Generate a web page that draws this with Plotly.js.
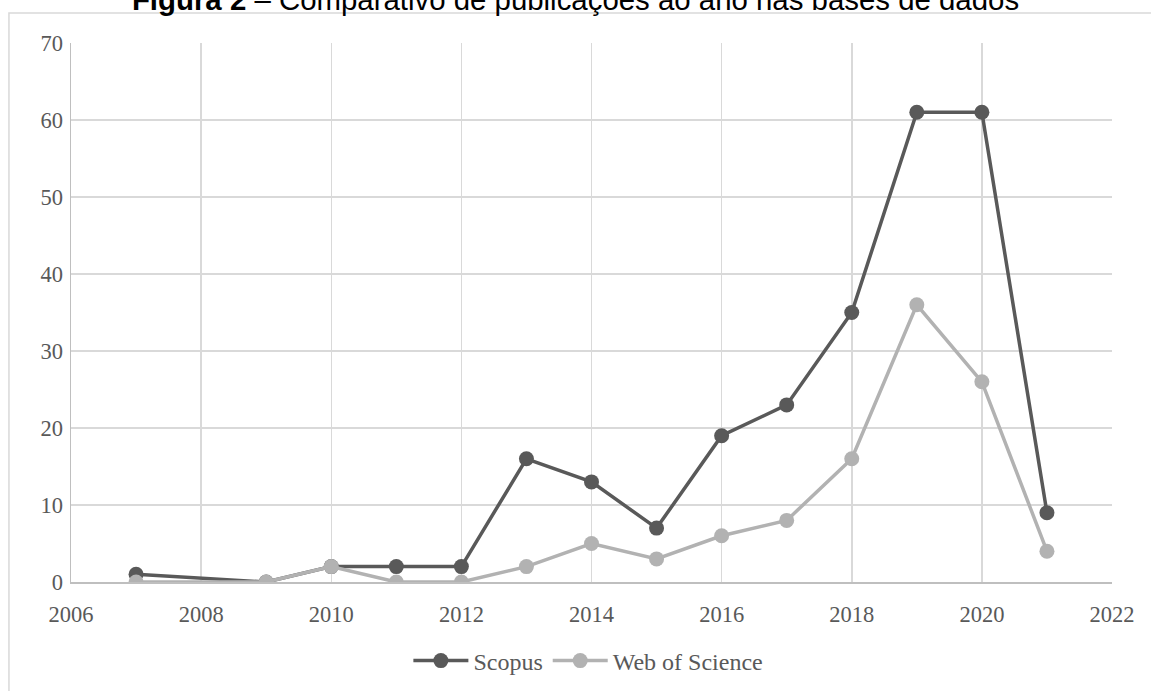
<!DOCTYPE html>
<html>
<head>
<meta charset="utf-8">
<script src="https://cdn.plot.ly/plotly-3.0.1.min.js"></script>
<style>
html, body { margin: 0; padding: 0; background: #ffffff; }
#chart { width: 1151px; height: 691px; }
</style>
</head>
<body>
<div id="chart"></div>
<script>
var years = [2007, 2009, 2010, 2011, 2012, 2013, 2014, 2015, 2016, 2017, 2018, 2019, 2020, 2021];
var scopus = [1, 0, 2, 2, 2, 16, 13, 7, 19, 23, 35, 61, 61, 9];
var webOfScience = [0, 0, 2, 0, 0, 2, 5, 3, 6, 8, 16, 36, 26, 4];
var seriesNames = ["Scopus", "Web of Science"];
var titleText = "<b>Figura 2</b> – Comparativo de publicações ao ano nas bases de dados";

var tickFont = { family: "Liberation Serif, Times New Roman, serif", size: 22.5, color: "#595959" };
var legendFont = { family: "Liberation Serif, Times New Roman, serif", size: 24, color: "#595959" };

var traces = [
  {
    x: years, y: scopus, name: seriesNames[0], type: "scatter", mode: "lines+markers",
    line: { color: "#595959", width: 3.5 },
    marker: { color: "#595959", size: 15 }
  },
  {
    x: years, y: webOfScience, name: seriesNames[1], type: "scatter", mode: "lines+markers",
    line: { color: "#b2b2b2", width: 3.5 },
    marker: { color: "#b2b2b2", size: 15 }
  }
];

var layout = {
  width: 1151, height: 691,
  margin: { l: 71, r: 39, t: 43, b: 109 },
  paper_bgcolor: "#ffffff", plot_bgcolor: "#ffffff",
  title: {
    text: titleText,
    font: { family: "Liberation Sans, Arial, sans-serif", size: 29.4, color: "#000000" },
    x: 0.5, xanchor: "center", xref: "container",
    y: 1.0, yanchor: "middle", yref: "container"
  },
  xaxis: {
    range: [2006, 2022], dtick: 2, tick0: 2006,
    showgrid: true, gridcolor: "#d9d9d9", gridwidth: 1.5,
    showline: true, linecolor: "#bfbfbf", linewidth: 1.5,
    zeroline: false, ticks: "", tickfont: tickFont,
    ticklabelstandoff: 11
  },
  yaxis: {
    range: [0, 70], dtick: 10,
    showgrid: true, gridcolor: "#d9d9d9", gridwidth: 1.5,
    showline: true, linecolor: "#bfbfbf", linewidth: 1.5,
    zeroline: false, ticks: "", tickfont: tickFont,
    ticklabelstandoff: 2
  },
  showlegend: true,
  legend: {
    orientation: "h", x: 0.497, xanchor: "center", xref: "paper",
    y: 0.0434, yanchor: "middle", yref: "container",
    font: legendFont, bgcolor: "rgba(0,0,0,0)", itemwidth: 55
  },
  shapes: [
    {
      type: "rect", xref: "paper", yref: "paper",
      x0: -0.0596, x1: 1.3, y0: -0.5, y1: 1.0557,
      line: { color: "#d9d9d9", width: 1.5 }, fillcolor: "rgba(0,0,0,0)", layer: "below"
    }
  ]
};

Plotly.newPlot("chart", traces, layout, { displayModeBar: false, staticPlot: true });
</script>
</body>
</html>
